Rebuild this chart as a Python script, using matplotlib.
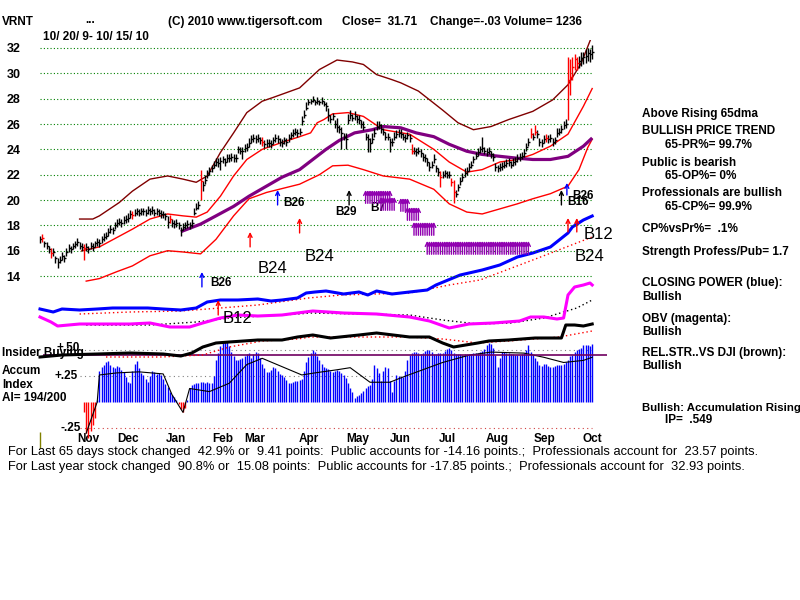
import matplotlib
matplotlib.use("Agg")
import matplotlib.pyplot as plt
import numpy as np

plt.rcParams['font.family'] = ['Liberation Sans', 'DejaVu Sans']

W, H = 800, 600

# ---------------- data ----------------
closes = [
    16.9, 17.0, 16.6, 16.4, 16.1, 15.8, 15.9, 15.4, 15.1, 15.3,
    15.6, 15.4, 15.9, 16.2, 16.1, 16.4, 16.5, 16.7, 16.4, 16.3,
    16.2, 16.3, 16.1, 16.4, 16.3, 16.6, 16.7, 16.6, 16.9, 17.1,
    17.2, 17.5, 17.7, 17.6, 18.0, 18.2, 18.3, 18.2, 18.4, 18.5,
    18.6, 18.9, 18.8, 19.0, 19.1, 19.0, 19.1, 19.1, 19.0, 19.2,
    19.1, 19.2, 19.0, 19.1, 19.0, 18.9, 18.9, 18.7, 18.3, 18.5,
    18.2, 18.1, 18.2, 18.0, 17.6, 17.9, 18.0, 18.1, 18.0, 18.2,
    19.0, 19.4, 19.6, 21.5, 21.2, 21.6, 22.0, 22.3, 22.5, 22.8,
    23.0, 22.9, 23.1, 23.2, 23.0, 23.3, 23.3, 23.4, 23.3, 23.3,
    24.0, 23.9, 23.9, 24.1, 24.2, 24.5, 24.8, 24.9, 24.8, 24.9,
    24.7, 24.6, 24.4, 24.5, 24.5, 24.4, 24.7, 24.9, 24.8, 24.6,
    24.5, 24.7, 24.6, 24.9, 25.1, 25.3, 25.4, 25.3, 25.4, 26.2,
    26.7, 27.3, 27.7, 27.8, 27.9, 27.7, 27.8, 27.7, 27.8, 27.6,
    27.4, 26.7, 26.4, 26.6, 26.0, 25.8, 25.6, 25.3, 25.0, 24.8,
    26.3, 26.7, 26.5, 26.6, 26.4, 26.3, 26.0, 25.8, 25.0, 24.8,
    24.5, 24.8, 25.3, 25.8, 25.9, 25.6, 25.4, 25.0, 25.0, 24.6,
    24.6, 25.0, 25.2, 25.3, 25.2, 25.0, 24.9, 25.1, 24.9, 23.9,
    23.9, 23.8, 23.9, 23.7, 23.4, 23.3, 23.0, 22.6, 22.8, 23.2,
    22.5, 22.2, 21.8, 22.0, 22.1, 22.0, 22.0, 21.4, 20.6, 20.5,
    21.0, 21.5, 21.8, 22.1, 22.3, 22.6, 22.8, 23.2, 23.5, 23.8,
    24.0, 24.1, 23.9, 23.8, 23.9, 23.6, 23.4, 22.6, 22.5, 22.6,
    22.7, 22.8, 22.9, 23.0, 22.8, 23.0, 23.1, 23.3, 23.4, 23.5,
    23.7, 24.2, 24.6, 25.2, 25.0, 25.4, 25.2, 24.6, 24.5, 24.8,
    24.9, 24.8, 24.9, 24.6, 24.7, 25.3, 25.4, 25.6, 25.9, 26.0,
    29.5, 29.7, 30.5, 31.1, 30.8, 31.0, 31.2, 31.3, 31.4, 31.6,
    31.5, 31.71,
]
# bar reach above / below the close, tenths of a dollar (base 36)
high_off = ("3323343233 3333323333 3333323333 3333333333 4333333333 "
            "3333332343 3333333333 4439344333 3433333333 3333343333 "
            "3433333333 3333333334 4432323232 3633373535 5434343434 "
            "4544343433 3433433335 3333333434 33533333a3 3334333333 "
            "3933333333 3333333333 3335353333 3333343334 ie84545454 45")
low_off = ("3333343453 3333333333 9333333333 3333333333 3333333333 "
           "3333333353 3333433333 223f533333 3373333333 3373333333 "
           "3333333333 3333333333 2222222222 4533343d38 333333333a "
           "7333333338 3333333333 3333333333 3383333383 3333333333 "
           "3333333333 3333333333 3333333333 3333333333 wea8566666 66")
bar_colors = ("krkkkrkkkk kkkkkkkkkk rkkkkkkkkk kkkkkkkkkk kkrkkkkkkk "
              "kkkkkkkkkr kkkkkkkkkk kkkrkkkkkk kkkkkkkkkk kkkkkkkkkk "
              "krkkkkkkkk kkkkkkkkkk kkkkkkkkkk kkkkkkkkkk kkkkkkkkkk "
              "kkkkkkkkkk kkkkkkkkkr kkkkkkkkkk kkrkkkkrrk kkkkkkkkkk "
              "kkkkkkkkkk kkkkkkkkkk kkkrkrkkkk rkkkkkkkkk rrrrrkkkkk kk")

upper_i = [18, 24, 27, 36, 42, 50, 58, 65, 71, 76, 82, 88, 94, 101, 106, 118,
           127, 135, 142, 147, 153, 160, 164, 172, 183, 190, 197, 205, 213,
           224, 233, 240, 246, 251]
upper_v = [18.5, 18.5, 18.75, 19.8, 20.7, 21.65, 21.9, 21.65, 21.4, 21.9,
           23.75, 25.3, 26.9, 27.8, 28.1, 28.85, 30.3, 31.05, 30.9, 30.7,
           29.9, 29.5, 29.25, 28.6, 27.1, 26.1, 25.55, 25.8, 26.35, 27.0,
           27.9, 29.1, 30.8, 33.0]
mid_i = [19, 27, 42, 50, 58, 65, 71, 76, 82, 88, 94, 101, 110, 118, 123, 126,
         129, 133, 140, 147, 156, 168, 179, 186, 194, 201, 209, 217, 224, 232,
         240, 247, 251]
mid_v = [16.0, 16.3, 17.7, 18.5, 18.9, 18.75, 18.65, 19.05, 20.3, 21.9, 23.2,
         24.0, 24.55, 25.0, 25.3, 26.1, 26.35, 26.8, 26.9, 26.6, 25.55, 25.2,
         24.0, 23.0, 22.2, 22.4, 23.0, 23.2, 23.6, 24.25, 25.2, 27.4, 28.8]
dma65_i = [64, 73, 80, 88, 95, 103, 110, 118, 127, 130, 136, 143, 151, 156,
           164, 171, 179, 186, 194, 201, 209, 217, 224, 232, 240, 247, 251]
dma65_v = [17.5, 18.1, 18.75, 19.5, 20.3, 21.1, 21.8, 22.4, 23.6, 24.0, 24.7,
           25.3, 25.55, 25.8, 25.7, 25.3, 25.0, 24.4, 23.85, 23.6, 23.45, 23.3,
           23.2, 23.2, 23.45, 24.25, 24.9]
lower_i = [21, 27, 35, 42, 50, 58, 65, 73, 80, 88, 95, 103, 118, 127, 133, 140,
           147, 156, 168, 179, 186, 194, 201, 209, 217, 224, 232, 240, 245,
           249, 251]
lower_v = [13.6, 13.8, 14.35, 14.8, 15.6, 16.0, 15.9, 15.75, 16.9, 18.75, 20.1,
           20.6, 21.25, 22.0, 22.7, 22.75, 22.4, 21.9, 21.65, 20.85, 19.7,
           19.05, 18.9, 19.3, 19.7, 20.1, 20.5, 21.1, 22.4, 24.15, 24.8]

# closing power (blue), OBV (magenta), rel. strength (black) + their averages
cp_i = [0, 6, 10, 18, 26, 33, 41, 49, 56, 64, 71, 76, 82, 90, 99, 105, 110,
        117, 121, 125, 130, 138, 145, 149, 153, 160, 168, 176, 180, 191, 201,
        209, 217, 224, 232, 236, 240, 242, 247, 251]
cp_v = [30.5, 29, 30.5, 30, 30.5, 31, 31, 31, 30.5, 30, 31, 34, 35, 35, 35.5,
        34.5, 35, 36, 38.5, 39, 39.5, 38, 39, 37.5, 39.5, 38, 39, 40, 42.5,
        47.5, 50, 52.5, 56.5, 58.5, 61.5, 65, 68.5, 71.5, 75, 77]
cp_ma_i = [18, 41, 64, 82, 99, 122, 137, 168, 186, 200, 224, 251]
cp_ma_v = [28, 29, 29.5, 31, 32.5, 36, 37.5, 38.5, 42.5, 45, 55, 66.5]
obv_i = [0, 5, 8, 18, 33, 41, 50, 59, 68, 74, 82, 90, 99, 110, 117, 124, 138,
         153, 168, 177, 186, 195, 206, 218, 223, 229, 235, 238, 240, 243, 247,
         250, 251]
obv_v = [26.5, 24, 22, 23, 23, 23, 23.5, 21.5, 21.5, 23.5, 26, 27.5, 27, 27.5,
         28.5, 29.5, 28.5, 28, 26.5, 24.5, 21, 23, 23.5, 24.5, 26.5, 26.5, 25.5,
         26, 37.5, 41.5, 42.5, 43.5, 42.5]
obv_ma_i = [21, 50, 71, 86, 117, 123, 168, 183, 199, 214, 229, 244, 251]
obv_ma_v = [22.5, 22.5, 24, 26, 28, 28.5, 27.5, 25, 23, 23.5, 26, 31, 35]
rs_i = [0, 10, 26, 41, 56, 64, 69, 74, 80, 86, 99, 110, 117, 124, 132, 145,
        153, 168, 177, 183, 188, 199, 204, 213, 225, 237, 239, 243, 247, 251]
rs_v = [6.5, 7.5, 8, 8.5, 8, 7, 8.5, 11.5, 13.5, 14, 15, 15, 16.5, 17.5, 16,
        17.5, 18.5, 16.5, 16.5, 13.5, 11.5, 13.5, 14.5, 15, 16, 16, 22.5, 22.5,
        22, 23]
rs_ma_i = [30, 55, 74, 86, 101, 117, 123, 168, 183, 199, 213, 236, 251]
rs_ma_v = [6.5, 6.5, 7.5, 11.5, 14.5, 15.5, 16.5, 16.5, 15.5, 13.5, 14.5, 16.5,
           19.5]

# accumulation index, one value per bar from bar 20
ai_start = 20
accum = [
    -0.10, -0.30, -0.35, -0.28, -0.22, -0.15, 0.02, 0.30, 0.34, 0.36,
    0.38, 0.39, 0.36, 0.34, 0.33, 0.35, 0.34, 0.31, 0.29, 0.24,
    0.19, 0.18, 0.30, 0.37, 0.39, 0.33, 0.28, 0.26, 0.22, 0.19,
    0.25, 0.30, 0.29, 0.27, 0.28, 0.26, 0.22, 0.17, 0.14, 0.10,
    0.07, 0.05, 0.02, -0.02, -0.07, -0.10, -0.06, 0.02, 0.13, 0.16,
    0.17, 0.18, 0.18, 0.19, 0.19, 0.18, 0.19, 0.18, 0.18, 0.25,
    0.40, 0.47, 0.54, 0.57, 0.58, 0.58, 0.54, 0.48, 0.44, 0.40,
    0.40, 0.41, 0.42, 0.44, 0.46, 0.47, 0.42, 0.46, 0.48, 0.47,
    0.42, 0.37, 0.33, 0.29, 0.29, 0.31, 0.34, 0.33, 0.30, 0.27,
    0.26, 0.24, 0.21, 0.18, 0.18, 0.19, 0.20, 0.20, 0.21, 0.22,
    0.30, 0.38, 0.43, 0.47, 0.50, 0.48, 0.44, 0.40, 0.37, 0.34,
    0.33, 0.32, 0.30, 0.29, 0.30, 0.31, 0.30, 0.28, 0.26, 0.23,
    0.18, 0.13, 0.10, 0.04, 0.06, 0.07, 0.09, 0.11, 0.13, 0.15,
    0.16, 0.22, 0.36, 0.33, 0.28, 0.20, 0.30, 0.34, 0.33, 0.20,
    0.10, 0.20, 0.26, 0.25, 0.24, 0.24, 0.30, 0.40, 0.45, 0.47,
    0.48, 0.48, 0.47, 0.46, 0.47, 0.49, 0.50, 0.50, 0.48, 0.46,
    0.46, 0.47, 0.47, 0.47, 0.49, 0.51, 0.52, 0.50, 0.47, 0.46,
    0.46, 0.46, 0.45, 0.46, 0.46, 0.46, 0.46, 0.47, 0.47, 0.47,
    0.48, 0.49, 0.51, 0.55, 0.57, 0.56, 0.52, 0.45, 0.34, 0.42,
    0.48, 0.48, 0.47, 0.47, 0.46, 0.46, 0.45, 0.45, 0.45, 0.46,
    0.47, 0.50, 0.55, 0.48, 0.45, 0.42, 0.39, 0.36, 0.35, 0.37,
    0.37, 0.35, 0.34, 0.34, 0.35, 0.36, 0.36, 0.36, 0.37, 0.38,
    0.40, 0.44, 0.45, 0.48, 0.50, 0.51, 0.52, 0.55, 0.55, 0.55,
    0.54, 0.56,
]
ai_ma_i = [21, 26, 27, 35, 45, 56, 60, 65, 68, 77, 86, 94, 101, 110, 119, 125,
           135, 141, 150, 159, 165, 174, 183, 195, 205, 220, 229, 238, 247, 251]
ai_ma_v = [-0.30, 0.0, 0.26, 0.28, 0.29, 0.27, 0.07, -0.10, 0.13, 0.10, 0.18,
           0.36, 0.42, 0.34, 0.26, 0.28, 0.31, 0.33, 0.19, 0.19, 0.24, 0.31,
           0.38, 0.45, 0.48, 0.47, 0.43, 0.38, 0.40, 0.43]
insider_level = 0.45

month_pos = [21.8, 40, 61.8, 83.2, 97.7, 122.3, 144.5, 163.6, 185, 207.7,
             229.5, 251]
month_lab = ['Nov', 'Dec', 'Jan', 'Feb', 'Mar', 'Apr', 'May', 'Jun', 'Jul',
             'Aug', 'Sep', 'Oct']

# purple signal runs: first bar, last bar, arrow tip price
purple_runs = [(148, 159, 20.79), (155, 161, 20.24), (164, 167, 20.16),
               (167, 172, 19.45), (170, 179, 18.27), (176, 222, 16.77)]


def rect(x0, y0, x1, y1):
    return [x0 / W, 1 - y1 / H, (x1 - x0) / W, (y1 - y0) / H]


def ftext(x, y, s, **kw):
    kw.setdefault('fontweight', 'bold')
    kw.setdefault('fontsize', 8.5)
    return fig.text(x / W, 1 - y / H, s, va='center', ha='left', **kw)


def up_arrow(ax, i, tip, length, color):
    ax.annotate('', xy=(i, tip), xytext=(i, tip - length),
                arrowprops=dict(arrowstyle='->', color=color, lw=1,
                                shrinkA=0, shrinkB=0, mutation_scale=7),
                annotation_clip=False)


fig = plt.figure(figsize=(8, 6), dpi=100)
fig.patch.set_facecolor('white')
XL = (-10 / 2.2, 580 / 2.2)

ax_acc = fig.add_axes(rect(30, 330, 620, 432))
ax_ind = fig.add_axes(rect(30, 210, 620, 370))
ax_p = fig.add_axes(rect(30, 40, 620, 290))
for ax in (ax_acc, ax_ind, ax_p):
    ax.set_facecolor('none')
    ax.set_xlim(*XL)
    for s in ax.spines.values():
        s.set_visible(False)

# ---------------- price panel ----------------
n = len(closes)
idx = np.arange(n)
c = np.array(closes)
hi = c + np.array([int(ch, 36) for ch in high_off.replace(' ', '')]) / 10
lo = c - np.array([int(ch, 36) for ch in low_off.replace(' ', '')]) / 10
cols = np.array(list(bar_colors.replace(' ', '')))

ax_p.set_ylim(32 - 250 / 12.67 + 0.63, 32 + 8 / 12.67)
ticks = list(range(14, 33, 2))
ax_p.hlines(ticks, 0, n - 1, colors='#008000', linestyles=(0, (1, 2)), lw=0.8)
ax_p.set_yticks(ticks)
ax_p.set_yticklabels([str(t) for t in ticks], fontweight='bold', fontsize=9)
ax_p.tick_params(axis='y', length=0, pad=7)
ax_p.set_xticks([])

ax_p.plot(upper_i, upper_v, color='#800000', lw=1)
ax_p.plot(mid_i, mid_v, color='#ff0000', lw=1)
ax_p.plot(lower_i, lower_v, color='#ff0000', lw=1)
ax_p.plot(dma65_i, dma65_v, color='#800080', lw=2.3, solid_capstyle='butt')

for col, mc in (('k', 'black'), ('r', '#ff0000')):
    m = cols == col
    ax_p.vlines(idx[m], lo[m], hi[m], colors=mc, lw=1)
    ax_p.hlines(c[m], idx[m], idx[m] + 0.9, colors=mc, lw=1)

# signals
ax_p.text(150, 19.37, 'B7', fontweight='bold', fontsize=8.5, va='center', zorder=1)
for a, b, tip in purple_runs:
    for i in range(a, b + 1):
        up_arrow(ax_p, i, tip, 1.05, '#9000b0')

up_arrow(ax_p, 73.6, 14.32, 1.18, '#0000ff')
ax_p.text(77.3, 13.45, 'B26', fontweight='bold', fontsize=8.5, va='center')
up_arrow(ax_p, 95.5, 17.48, 1.18, '#ff0000')
up_arrow(ax_p, 118, 18.58, 1.18, '#ff0000')
up_arrow(ax_p, 108, 20.79, 1.18, '#0000ff')
ax_p.text(110.5, 19.77, 'B26', fontweight='bold', fontsize=8.5, va='center')
up_arrow(ax_p, 140.5, 20.79, 1.18, 'black')
ax_p.text(139, 19.06, 'B29', fontweight='bold', fontsize=8.5, va='center', ha='center')
up_arrow(ax_p, 237, 20.79, 1.18, 'black')
up_arrow(ax_p, 239.5, 21.35, 0.95, '#0000ff')
ax_p.text(242, 20.3, 'B26', fontweight='bold', fontsize=8.5, va='center')
ax_p.text(239.5, 19.85, 'B16', fontweight='bold', fontsize=8.5, va='center')
up_arrow(ax_p, 240, 18.58, 1.1, '#ff0000')
up_arrow(ax_p, 244, 18.58, 1.1, '#ff0000')
for x, y, s in ((99, 14.56, 'B24'), (120.5, 15.58, 'B24'),
                (247, 17.24, 'B12'), (243, 15.58, 'B24')):
    ax_p.text(x, y, s, fontsize=12, va='center', clip_on=False)

# ---------------- indicator lines ----------------
ax_ind.set_ylim(0, 80)
ax_ind.set_xticks([])
ax_ind.set_yticks([])
ax_ind.plot(cp_ma_i, cp_ma_v, color='#ff0000', lw=1, ls=(0, (1, 2)))
ax_ind.plot(cp_i, cp_v, color='#0000ff', lw=2.2)
ax_ind.plot(obv_ma_i, obv_ma_v, color='black', lw=1, ls=(0, (1, 2)))
ax_ind.plot(obv_i, obv_v, color='#ff00ff', lw=2.2)
ax_ind.plot(rs_ma_i, rs_ma_v, color='#ff0000', lw=1, ls=(0, (1, 2)))
ax_ind.plot(rs_i, rs_v, color='black', lw=2.2)
up_arrow(ax_ind, 81, 35, 7.5, '#ff0000')
ax_ind.text(83, 26, 'B12', fontsize=12, va='center')

# ---------------- accumulation index ----------------
ax_acc.set_ylim((402 - 432) / 104, (402 - 330) / 104)
ax_acc.set_yticks([])
ai = np.array(accum)
ai_x = np.arange(ai_start, ai_start + len(ai))
ax_acc.hlines([0.5, 0.25], 18, n - 1, colors='#808080', linestyles=(0, (1, 3)), lw=0.8)
ax_acc.hlines(-0.25, 18, n - 1, colors='#d04040', linestyles=(0, (1, 3)), lw=0.8,
              clip_on=False)
pos = ai >= 0
ax_acc.vlines(ai_x[pos], 0, ai[pos], colors='#0000ff', lw=1)
ax_acc.vlines(ai_x[~pos], 0, ai[~pos], colors='#ff0000', lw=1, clip_on=False)
ax_acc.plot(ai_ma_i, ai_ma_v, color='black', lw=0.8, clip_on=False)
ax_acc.hlines(insider_level, 1.4, 257.7, colors='#700060', lw=1.2)
ax_acc.vlines(0, -0.29, -0.44, colors='#808000', lw=1, clip_on=False)
for x, y, s in ((7.7, 0.52, '+.50'), (6.8, 0.25, '+.25'), (9.1, -0.25, '-.25')):
    ax_acc.text(x, y, s, fontweight='bold', fontsize=8.5, va='center')
ax_acc.set_xticks(month_pos)
ax_acc.set_xticklabels(month_lab, fontweight='bold', fontsize=8.5)
ax_acc.tick_params(axis='x', length=0, pad=1)

# ---------------- texts ----------------
ftext(2, 22, 'VRNT')
ftext(85, 20, '...')
ftext(168, 22, '(C) 2010 www.tigersoft.com')
ftext(342, 22, 'Close=  31.71')
ftext(430, 22, 'Change=-.03 Volume= 1236')
ftext(43, 37, '10/ 20/ 9- 10/ 15/ 10')

for x, y, s in ((642, 114, 'Above Rising 65dma'), (642, 131, 'BULLISH PRICE TREND'),
                (665, 145, '65-PR%= 99.7%'), (642, 163, 'Public is bearish'),
                (665, 176, '65-OP%= 0%'), (642, 193, 'Professionals are bullish'),
                (665, 207, '65-CP%= 99.9%'), (642, 229, 'CP%vsPr%=  .1%'),
                (642, 252, 'Strength Profess/Pub= 1.7'),
                (642, 283, 'CLOSING POWER (blue):'), (642, 297, 'Bullish'),
                (642, 319, 'OBV (magenta):'), (642, 332, 'Bullish'),
                (642, 353, 'REL.STR..VS DJI (brown):'), (642, 366, 'Bullish'),
                (642, 420, 'IP=  .549')):
    ftext(x if s[0] != 'I' else 665, y, s)
# last line runs off the right edge in the original
ftext(642, 408, 'Bullish: Accumulation Rising', fontsize=8.2)

for x, y, s in ((2, 353, 'Insider Buying'), (2, 371, 'Accum'), (2, 385, 'Index'),
                (2, 398, 'AI= 194/200')):
    ftext(x, y, s)

# bottom summary lines use a condensed face: fit the first line to its width
t1 = ftext(8, 452, 'For Last 65 days stock changed  42.9% or  9.41 points:  Public accounts '
           'for -14.16 points.;  Professionals account for  23.57 points.',
           fontweight='normal', fontsize=9)
t2 = ftext(8, 467, 'For Last year stock changed  90.8% or  15.08 points:  Public accounts '
           'for -17.85 points.;  Professionals account for  32.93 points.',
           fontweight='normal', fontsize=9)
fig.canvas.draw()
r = fig.canvas.get_renderer()
wpx = t1.get_window_extent(r).width
fs = 9 * 752 / wpx
t1.set_fontsize(fs)
t2.set_fontsize(fs)

fig.savefig('out.png', dpi=100, facecolor='white')
